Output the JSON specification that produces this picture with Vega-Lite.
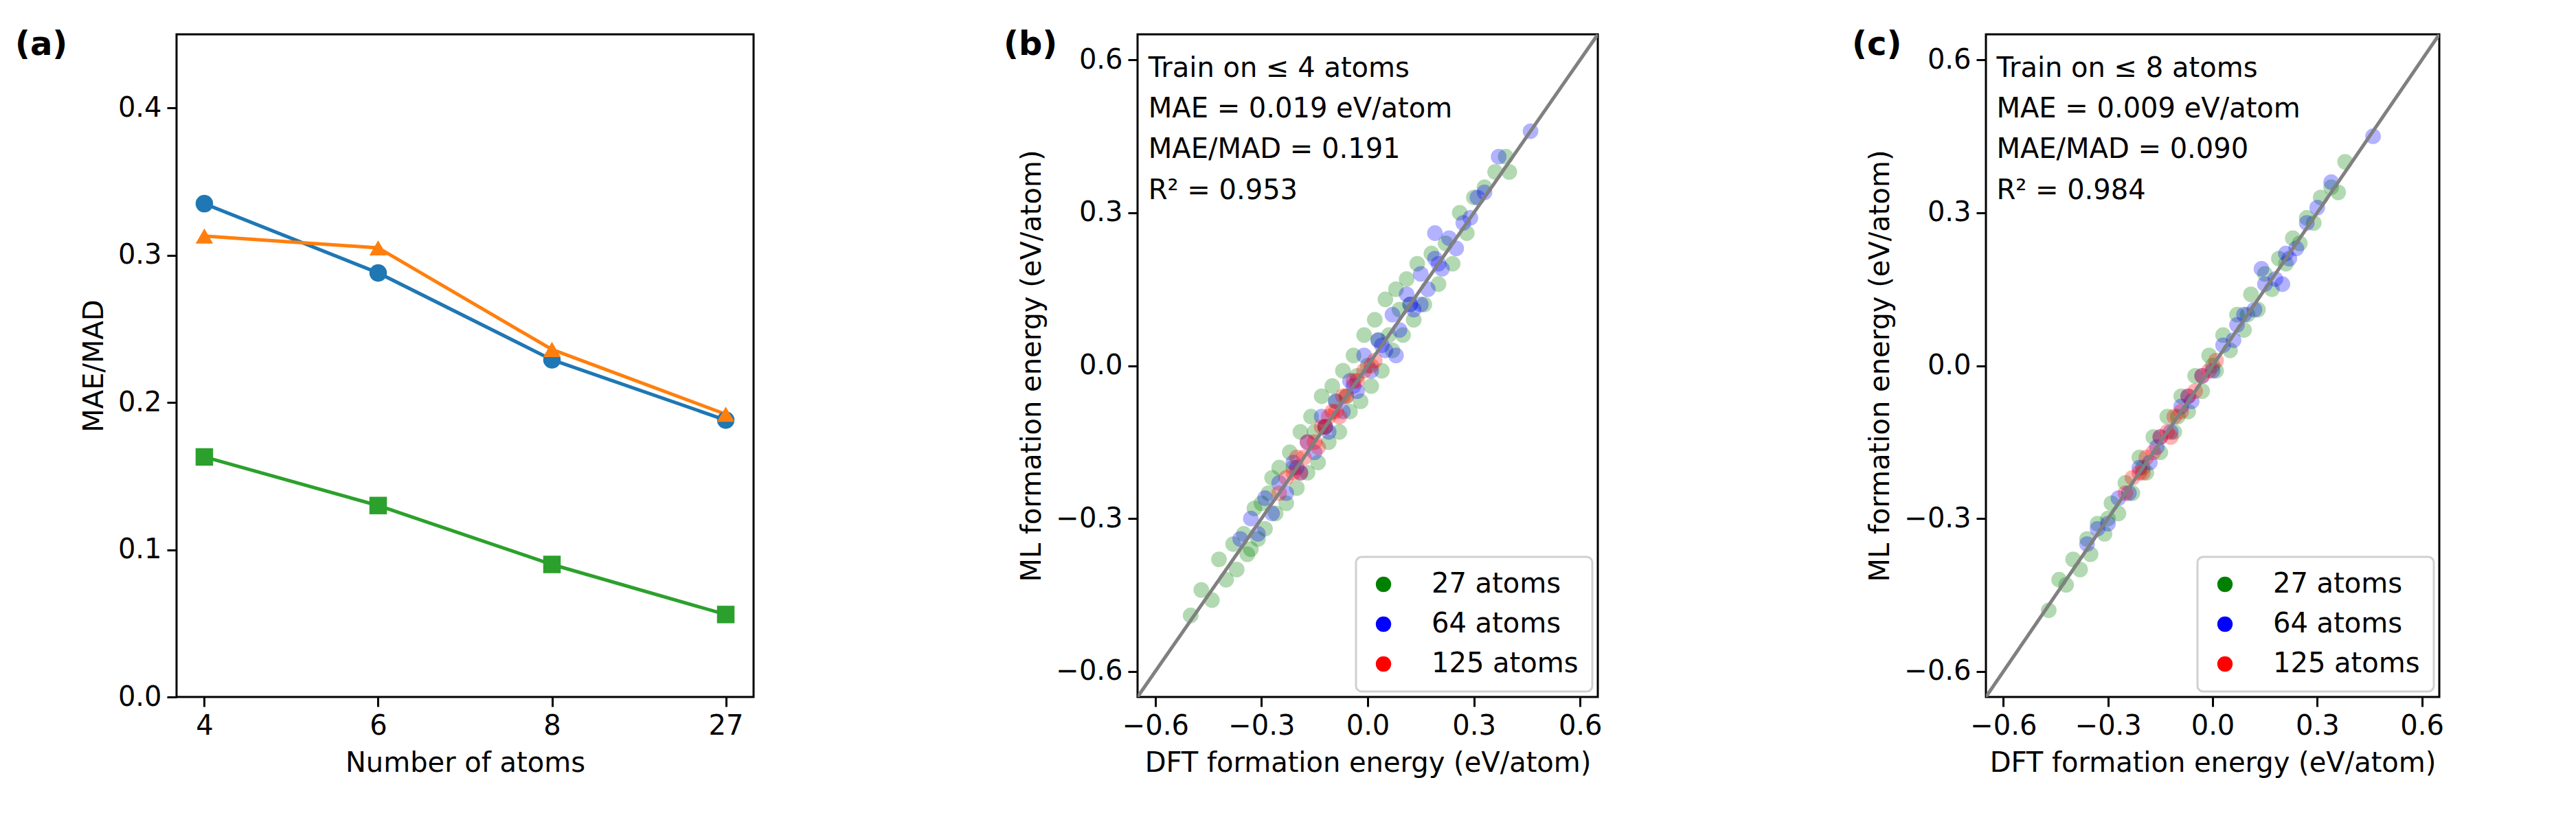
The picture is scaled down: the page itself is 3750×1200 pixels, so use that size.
{
  "$schema": "https://vega.github.io/schema/vega-lite/v6.json",
  "background": "white",
  "padding": {"left": 20, "top": 40, "right": 10, "bottom": 5},
  "spacing": 360,
  "config": {
    "font": "DejaVu Sans",
    "view": {"stroke": "black", "strokeWidth": 3},
    "axis": {"grid": false, "domain": false, "tickColor": "black", "tickWidth": 3, "tickSize": 14, "labelFontSize": 40, "labelColor": "black", "titleFontSize": 40, "titleFontWeight": "normal", "titleColor": "black", "labelPadding": 8, "titlePadding": 14},
    "legend": {"labelFontSize": 40, "symbolSize": 900, "rowPadding": 18, "padding": 20, "strokeColor": "#d0d0d0", "strokeWidth": 3, "cornerRadius": 8, "fillColor": "white", "labelLimit": 600},
    "title": {"fontSize": 48, "fontWeight": "bold", "anchor": "start", "frame": "group", "baseline": "top"}
  },
  "datasets": {
    "mae": [
      {"n": "4", "model": "RF", "v": 0.335}, {"n": "6", "model": "RF", "v": 0.288}, {"n": "8", "model": "RF", "v": 0.229}, {"n": "27", "model": "RF", "v": 0.188},
      {"n": "4", "model": "XGB", "v": 0.313}, {"n": "6", "model": "XGB", "v": 0.305}, {"n": "8", "model": "XGB", "v": 0.236}, {"n": "27", "model": "XGB", "v": 0.192},
      {"n": "4", "model": "ALIGNN", "v": 0.163}, {"n": "6", "model": "ALIGNN", "v": 0.130}, {"n": "8", "model": "ALIGNN", "v": 0.090}, {"n": "27", "model": "ALIGNN", "v": 0.056}
    ],
    "diag": [{"x": -0.65, "y": -0.65}, {"x": 0.65, "y": 0.65}],
    "b": [
      {"s": "27 atoms", "x": -0.50, "y": -0.49}, {"s": "27 atoms", "x": -0.47, "y": -0.44}, {"s": "27 atoms", "x": -0.44, "y": -0.46}, {"s": "27 atoms", "x": -0.42, "y": -0.38}, {"s": "27 atoms", "x": -0.40, "y": -0.42}, {"s": "27 atoms", "x": -0.38, "y": -0.35}, {"s": "27 atoms", "x": -0.37, "y": -0.40}, {"s": "27 atoms", "x": -0.35, "y": -0.33}, {"s": "27 atoms", "x": -0.34, "y": -0.37}, {"s": "27 atoms", "x": -0.32, "y": -0.28}, {"s": "27 atoms", "x": -0.31, "y": -0.34}, {"s": "27 atoms", "x": -0.30, "y": -0.27}, {"s": "27 atoms", "x": -0.29, "y": -0.32}, {"s": "27 atoms", "x": -0.27, "y": -0.22}, {"s": "27 atoms", "x": -0.26, "y": -0.29}, {"s": "27 atoms", "x": -0.25, "y": -0.20}, {"s": "27 atoms", "x": -0.23, "y": -0.27}, {"s": "27 atoms", "x": -0.22, "y": -0.17}, {"s": "27 atoms", "x": -0.20, "y": -0.24}, {"s": "27 atoms", "x": -0.19, "y": -0.13}, {"s": "27 atoms", "x": -0.17, "y": -0.21}, {"s": "27 atoms", "x": -0.16, "y": -0.10}, {"s": "27 atoms", "x": -0.14, "y": -0.19}, {"s": "27 atoms", "x": -0.13, "y": -0.06}, {"s": "27 atoms", "x": -0.11, "y": -0.15}, {"s": "27 atoms", "x": -0.10, "y": -0.04}, {"s": "27 atoms", "x": -0.08, "y": -0.13}, {"s": "27 atoms", "x": -0.07, "y": -0.01}, {"s": "27 atoms", "x": -0.05, "y": -0.09}, {"s": "27 atoms", "x": -0.04, "y": 0.02}, {"s": "27 atoms", "x": -0.02, "y": -0.07}, {"s": "27 atoms", "x": -0.01, "y": 0.06}, {"s": "27 atoms", "x": 0.01, "y": -0.04}, {"s": "27 atoms", "x": 0.02, "y": 0.09}, {"s": "27 atoms", "x": 0.04, "y": -0.01}, {"s": "27 atoms", "x": 0.05, "y": 0.13}, {"s": "27 atoms", "x": 0.07, "y": 0.03}, {"s": "27 atoms", "x": 0.08, "y": 0.15}, {"s": "27 atoms", "x": 0.10, "y": 0.06}, {"s": "27 atoms", "x": 0.11, "y": 0.17}, {"s": "27 atoms", "x": 0.13, "y": 0.09}, {"s": "27 atoms", "x": 0.14, "y": 0.20}, {"s": "27 atoms", "x": 0.16, "y": 0.12}, {"s": "27 atoms", "x": 0.18, "y": 0.22}, {"s": "27 atoms", "x": 0.20, "y": 0.16}, {"s": "27 atoms", "x": 0.22, "y": 0.24}, {"s": "27 atoms", "x": 0.24, "y": 0.20}, {"s": "27 atoms", "x": 0.26, "y": 0.30}, {"s": "27 atoms", "x": 0.28, "y": 0.26}, {"s": "27 atoms", "x": 0.30, "y": 0.33}, {"s": "27 atoms", "x": 0.33, "y": 0.35}, {"s": "27 atoms", "x": 0.36, "y": 0.38}, {"s": "27 atoms", "x": 0.39, "y": 0.41}, {"s": "27 atoms", "x": 0.40, "y": 0.38}, {"s": "27 atoms", "x": -0.12, "y": -0.12}, {"s": "27 atoms", "x": -0.06, "y": -0.06}, {"s": "27 atoms", "x": 0.0, "y": 0.0}, {"s": "27 atoms", "x": 0.06, "y": 0.06}, {"s": "27 atoms", "x": 0.12, "y": 0.12}, {"s": "27 atoms", "x": -0.33, "y": -0.36}, {"s": "27 atoms", "x": -0.28, "y": -0.25}, {"s": "27 atoms", "x": -0.21, "y": -0.20}, {"s": "27 atoms", "x": -0.15, "y": -0.13}, {"s": "27 atoms", "x": -0.09, "y": -0.07}, {"s": "27 atoms", "x": -0.03, "y": -0.02}, {"s": "27 atoms", "x": 0.03, "y": 0.05}, {"s": "27 atoms", "x": 0.09, "y": 0.11},
      {"s": "64 atoms", "x": -0.36, "y": -0.34}, {"s": "64 atoms", "x": -0.33, "y": -0.30}, {"s": "64 atoms", "x": -0.31, "y": -0.33}, {"s": "64 atoms", "x": -0.29, "y": -0.26}, {"s": "64 atoms", "x": -0.27, "y": -0.29}, {"s": "64 atoms", "x": -0.25, "y": -0.23}, {"s": "64 atoms", "x": -0.23, "y": -0.25}, {"s": "64 atoms", "x": -0.21, "y": -0.19}, {"s": "64 atoms", "x": -0.19, "y": -0.21}, {"s": "64 atoms", "x": -0.17, "y": -0.15}, {"s": "64 atoms", "x": -0.15, "y": -0.17}, {"s": "64 atoms", "x": -0.13, "y": -0.10}, {"s": "64 atoms", "x": -0.11, "y": -0.13}, {"s": "64 atoms", "x": -0.09, "y": -0.07}, {"s": "64 atoms", "x": -0.07, "y": -0.09}, {"s": "64 atoms", "x": -0.05, "y": -0.03}, {"s": "64 atoms", "x": -0.03, "y": -0.05}, {"s": "64 atoms", "x": -0.01, "y": 0.02}, {"s": "64 atoms", "x": 0.01, "y": -0.01}, {"s": "64 atoms", "x": 0.03, "y": 0.05}, {"s": "64 atoms", "x": 0.05, "y": 0.03}, {"s": "64 atoms", "x": 0.07, "y": 0.10}, {"s": "64 atoms", "x": 0.09, "y": 0.07}, {"s": "64 atoms", "x": 0.11, "y": 0.14}, {"s": "64 atoms", "x": 0.13, "y": 0.11}, {"s": "64 atoms", "x": 0.15, "y": 0.18}, {"s": "64 atoms", "x": 0.17, "y": 0.15}, {"s": "64 atoms", "x": 0.19, "y": 0.21}, {"s": "64 atoms", "x": 0.21, "y": 0.19}, {"s": "64 atoms", "x": 0.23, "y": 0.25}, {"s": "64 atoms", "x": 0.25, "y": 0.23}, {"s": "64 atoms", "x": 0.27, "y": 0.28}, {"s": "64 atoms", "x": 0.29, "y": 0.29}, {"s": "64 atoms", "x": 0.31, "y": 0.33}, {"s": "64 atoms", "x": 0.33, "y": 0.34}, {"s": "64 atoms", "x": 0.37, "y": 0.41}, {"s": "64 atoms", "x": 0.46, "y": 0.46}, {"s": "64 atoms", "x": 0.19, "y": 0.26}, {"s": "64 atoms", "x": 0.08, "y": 0.02}, {"s": "64 atoms", "x": 0.15, "y": 0.12}, {"s": "64 atoms", "x": -0.20, "y": -0.20}, {"s": "64 atoms", "x": -0.12, "y": -0.12}, {"s": "64 atoms", "x": -0.04, "y": -0.04}, {"s": "64 atoms", "x": 0.04, "y": 0.04}, {"s": "64 atoms", "x": 0.12, "y": 0.12}, {"s": "64 atoms", "x": 0.20, "y": 0.20},
      {"s": "125 atoms", "x": -0.25, "y": -0.25}, {"s": "125 atoms", "x": -0.23, "y": -0.22}, {"s": "125 atoms", "x": -0.21, "y": -0.21}, {"s": "125 atoms", "x": -0.20, "y": -0.18}, {"s": "125 atoms", "x": -0.18, "y": -0.18}, {"s": "125 atoms", "x": -0.17, "y": -0.15}, {"s": "125 atoms", "x": -0.15, "y": -0.15}, {"s": "125 atoms", "x": -0.13, "y": -0.12}, {"s": "125 atoms", "x": -0.12, "y": -0.12}, {"s": "125 atoms", "x": -0.10, "y": -0.09}, {"s": "125 atoms", "x": -0.09, "y": -0.09}, {"s": "125 atoms", "x": -0.07, "y": -0.06}, {"s": "125 atoms", "x": -0.06, "y": -0.06}, {"s": "125 atoms", "x": -0.04, "y": -0.03}, {"s": "125 atoms", "x": -0.03, "y": -0.03}, {"s": "125 atoms", "x": -0.01, "y": -0.01}, {"s": "125 atoms", "x": 0.01, "y": 0.0}, {"s": "125 atoms", "x": 0.02, "y": 0.01}, {"s": "125 atoms", "x": -0.14, "y": -0.16}, {"s": "125 atoms", "x": -0.08, "y": -0.10}, {"s": "125 atoms", "x": -0.19, "y": -0.21}, {"s": "125 atoms", "x": -0.11, "y": -0.10}
    ],
    "c": [
      {"s": "27 atoms", "x": -0.47, "y": -0.48}, {"s": "27 atoms", "x": -0.44, "y": -0.42}, {"s": "27 atoms", "x": -0.42, "y": -0.43}, {"s": "27 atoms", "x": -0.40, "y": -0.38}, {"s": "27 atoms", "x": -0.38, "y": -0.40}, {"s": "27 atoms", "x": -0.36, "y": -0.34}, {"s": "27 atoms", "x": -0.35, "y": -0.37}, {"s": "27 atoms", "x": -0.33, "y": -0.31}, {"s": "27 atoms", "x": -0.31, "y": -0.33}, {"s": "27 atoms", "x": -0.29, "y": -0.27}, {"s": "27 atoms", "x": -0.27, "y": -0.29}, {"s": "27 atoms", "x": -0.25, "y": -0.23}, {"s": "27 atoms", "x": -0.23, "y": -0.25}, {"s": "27 atoms", "x": -0.21, "y": -0.18}, {"s": "27 atoms", "x": -0.19, "y": -0.21}, {"s": "27 atoms", "x": -0.17, "y": -0.14}, {"s": "27 atoms", "x": -0.15, "y": -0.17}, {"s": "27 atoms", "x": -0.13, "y": -0.10}, {"s": "27 atoms", "x": -0.11, "y": -0.13}, {"s": "27 atoms", "x": -0.09, "y": -0.06}, {"s": "27 atoms", "x": -0.07, "y": -0.09}, {"s": "27 atoms", "x": -0.05, "y": -0.02}, {"s": "27 atoms", "x": -0.03, "y": -0.05}, {"s": "27 atoms", "x": -0.01, "y": 0.02}, {"s": "27 atoms", "x": 0.01, "y": -0.01}, {"s": "27 atoms", "x": 0.03, "y": 0.06}, {"s": "27 atoms", "x": 0.05, "y": 0.03}, {"s": "27 atoms", "x": 0.07, "y": 0.10}, {"s": "27 atoms", "x": 0.09, "y": 0.07}, {"s": "27 atoms", "x": 0.11, "y": 0.14}, {"s": "27 atoms", "x": 0.13, "y": 0.11}, {"s": "27 atoms", "x": 0.15, "y": 0.18}, {"s": "27 atoms", "x": 0.17, "y": 0.15}, {"s": "27 atoms", "x": 0.19, "y": 0.21}, {"s": "27 atoms", "x": 0.21, "y": 0.20}, {"s": "27 atoms", "x": 0.23, "y": 0.25}, {"s": "27 atoms", "x": 0.25, "y": 0.24}, {"s": "27 atoms", "x": 0.27, "y": 0.29}, {"s": "27 atoms", "x": 0.29, "y": 0.28}, {"s": "27 atoms", "x": 0.31, "y": 0.33}, {"s": "27 atoms", "x": 0.34, "y": 0.35}, {"s": "27 atoms", "x": 0.38, "y": 0.40}, {"s": "27 atoms", "x": 0.36, "y": 0.34}, {"s": "27 atoms", "x": -0.30, "y": -0.30}, {"s": "27 atoms", "x": -0.20, "y": -0.20}, {"s": "27 atoms", "x": -0.10, "y": -0.10}, {"s": "27 atoms", "x": 0.0, "y": 0.0}, {"s": "27 atoms", "x": 0.10, "y": 0.10},
      {"s": "64 atoms", "x": -0.36, "y": -0.35}, {"s": "64 atoms", "x": -0.33, "y": -0.32}, {"s": "64 atoms", "x": -0.30, "y": -0.31}, {"s": "64 atoms", "x": -0.27, "y": -0.26}, {"s": "64 atoms", "x": -0.24, "y": -0.25}, {"s": "64 atoms", "x": -0.21, "y": -0.20}, {"s": "64 atoms", "x": -0.18, "y": -0.19}, {"s": "64 atoms", "x": -0.15, "y": -0.14}, {"s": "64 atoms", "x": -0.12, "y": -0.13}, {"s": "64 atoms", "x": -0.09, "y": -0.08}, {"s": "64 atoms", "x": -0.06, "y": -0.07}, {"s": "64 atoms", "x": -0.03, "y": -0.02}, {"s": "64 atoms", "x": 0.0, "y": -0.01}, {"s": "64 atoms", "x": 0.03, "y": 0.04}, {"s": "64 atoms", "x": 0.06, "y": 0.05}, {"s": "64 atoms", "x": 0.09, "y": 0.10}, {"s": "64 atoms", "x": 0.12, "y": 0.11}, {"s": "64 atoms", "x": 0.15, "y": 0.16}, {"s": "64 atoms", "x": 0.18, "y": 0.17}, {"s": "64 atoms", "x": 0.21, "y": 0.22}, {"s": "64 atoms", "x": 0.24, "y": 0.23}, {"s": "64 atoms", "x": 0.27, "y": 0.28}, {"s": "64 atoms", "x": 0.30, "y": 0.31}, {"s": "64 atoms", "x": 0.34, "y": 0.36}, {"s": "64 atoms", "x": 0.46, "y": 0.45}, {"s": "64 atoms", "x": 0.14, "y": 0.19}, {"s": "64 atoms", "x": 0.20, "y": 0.16}, {"s": "64 atoms", "x": -0.16, "y": -0.16}, {"s": "64 atoms", "x": -0.07, "y": -0.06}, {"s": "64 atoms", "x": 0.07, "y": 0.08}, {"s": "64 atoms", "x": 0.22, "y": 0.21},
      {"s": "125 atoms", "x": -0.25, "y": -0.25}, {"s": "125 atoms", "x": -0.23, "y": -0.22}, {"s": "125 atoms", "x": -0.21, "y": -0.21}, {"s": "125 atoms", "x": -0.19, "y": -0.18}, {"s": "125 atoms", "x": -0.17, "y": -0.17}, {"s": "125 atoms", "x": -0.15, "y": -0.14}, {"s": "125 atoms", "x": -0.13, "y": -0.13}, {"s": "125 atoms", "x": -0.11, "y": -0.10}, {"s": "125 atoms", "x": -0.09, "y": -0.09}, {"s": "125 atoms", "x": -0.07, "y": -0.06}, {"s": "125 atoms", "x": -0.05, "y": -0.05}, {"s": "125 atoms", "x": -0.03, "y": -0.02}, {"s": "125 atoms", "x": -0.01, "y": -0.01}, {"s": "125 atoms", "x": 0.01, "y": 0.01}, {"s": "125 atoms", "x": -0.12, "y": -0.14}, {"s": "125 atoms", "x": -0.20, "y": -0.21}
    ],
    "statsb": [{"t": "Train on ≤ 4 atoms", "y": 0.61}, {"t": "MAE = 0.019 eV/atom", "y": 0.53}, {"t": "MAE/MAD = 0.191", "y": 0.45}, {"t": "R² = 0.953", "y": 0.37}],
    "statsc": [{"t": "Train on ≤ 8 atoms", "y": 0.61}, {"t": "MAE = 0.009 eV/atom", "y": 0.53}, {"t": "MAE/MAD = 0.090", "y": 0.45}, {"t": "R² = 0.984", "y": 0.37}]
  },
  "resolve": {"scale": {"color": "independent", "shape": "independent"}, "legend": {"color": "independent", "shape": "independent"}},
  "hconcat": [
    {
      "width": 840, "height": 965,
      "title": {"text": "(a)", "dx": -235, "offset": -40},
      "data": {"name": "mae"},
      "layer": [
        {"mark": {"type": "line", "strokeWidth": 5},
         "encoding": {
           "x": {"field": "n", "type": "ordinal", "sort": ["4", "6", "8", "27"], "scale": {"type": "point", "padding": 0.16}, "axis": {"labelAngle": 0, "title": "Number of atoms"}},
           "y": {"field": "v", "type": "quantitative", "scale": {"domain": [0, 0.45], "nice": false}, "axis": {"values": [0, 0.1, 0.2, 0.3, 0.4], "format": ".1f", "title": "MAE/MAD"}},
           "color": {"field": "model", "type": "nominal", "scale": {"domain": ["RF", "XGB", "ALIGNN"], "range": ["#1f77b4", "#ff7f0e", "#2ca02c"]}, "legend": null}}},
        {"mark": {"type": "point", "filled": true, "opacity": 1, "size": 650},
         "encoding": {
           "x": {"field": "n", "type": "ordinal", "sort": ["4", "6", "8", "27"]},
           "y": {"field": "v", "type": "quantitative"},
           "color": {"field": "model", "type": "nominal", "scale": {"domain": ["RF", "XGB", "ALIGNN"], "range": ["#1f77b4", "#ff7f0e", "#2ca02c"]}, "legend": {"title": null, "orient": "top-right", "offset": 14, "labelOffset": 40, "symbolOpacity": 1}},
           "shape": {"field": "model", "type": "nominal", "scale": {"domain": ["RF", "XGB", "ALIGNN"], "range": ["circle", "triangle-up", "square"]}, "legend": {"title": null, "orient": "top-right", "offset": 14, "labelOffset": 40, "symbolOpacity": 1}}}}
      ]
    },
    {
      "width": 670, "height": 965,
      "title": {"text": "(b)", "dx": -195, "offset": -40},
      "layer": [
        {"data": {"name": "b"}, "mark": {"type": "circle", "size": 520, "opacity": 0.3},
         "encoding": {
           "x": {"field": "x", "type": "quantitative", "scale": {"domain": [-0.65, 0.65], "nice": false, "zero": false}, "axis": {"values": [-0.6, -0.3, 0, 0.3, 0.6], "format": ".1f", "title": "DFT formation energy (eV/atom)"}},
           "y": {"field": "y", "type": "quantitative", "scale": {"domain": [-0.65, 0.65], "nice": false, "zero": false}, "axis": {"values": [-0.6, -0.3, 0, 0.3, 0.6], "format": ".1f", "title": "ML formation energy (eV/atom)"}},
           "color": {"field": "s", "type": "nominal", "scale": {"domain": ["27 atoms", "64 atoms", "125 atoms"], "range": ["green", "blue", "red"]}, "legend": {"title": null, "orient": "bottom-right", "offset": 8, "symbolOpacity": 1, "symbolType": "circle", "symbolSize": 500, "labelOffset": 50}}}},
        {"data": {"name": "diag"}, "mark": {"type": "line", "color": "gray", "strokeWidth": 5, "clip": true},
         "encoding": {"x": {"field": "x", "type": "quantitative"}, "y": {"field": "y", "type": "quantitative"}}},
        {"data": {"name": "statsb"}, "mark": {"type": "text", "align": "left", "baseline": "top", "fontSize": 40, "dx": -10},
         "encoding": {"x": {"datum": -0.6}, "y": {"field": "y", "type": "quantitative"}, "text": {"field": "t"}}}
      ]
    },
    {
      "width": 660, "height": 965,
      "title": {"text": "(c)", "dx": -195, "offset": -40},
      "layer": [
        {"data": {"name": "c"}, "mark": {"type": "circle", "size": 520, "opacity": 0.3},
         "encoding": {
           "x": {"field": "x", "type": "quantitative", "scale": {"domain": [-0.65, 0.65], "nice": false, "zero": false}, "axis": {"values": [-0.6, -0.3, 0, 0.3, 0.6], "format": ".1f", "title": "DFT formation energy (eV/atom)"}},
           "y": {"field": "y", "type": "quantitative", "scale": {"domain": [-0.65, 0.65], "nice": false, "zero": false}, "axis": {"values": [-0.6, -0.3, 0, 0.3, 0.6], "format": ".1f", "title": "ML formation energy (eV/atom)"}},
           "color": {"field": "s", "type": "nominal", "scale": {"domain": ["27 atoms", "64 atoms", "125 atoms"], "range": ["green", "blue", "red"]}, "legend": {"title": null, "orient": "bottom-right", "offset": 8, "symbolOpacity": 1, "symbolType": "circle", "symbolSize": 500, "labelOffset": 50}}}},
        {"data": {"name": "diag"}, "mark": {"type": "line", "color": "gray", "strokeWidth": 5, "clip": true},
         "encoding": {"x": {"field": "x", "type": "quantitative"}, "y": {"field": "y", "type": "quantitative"}}},
        {"data": {"name": "statsc"}, "mark": {"type": "text", "align": "left", "baseline": "top", "fontSize": 40, "dx": -10},
         "encoding": {"x": {"datum": -0.6}, "y": {"field": "y", "type": "quantitative"}, "text": {"field": "t"}}}
      ]
    }
  ]
}
